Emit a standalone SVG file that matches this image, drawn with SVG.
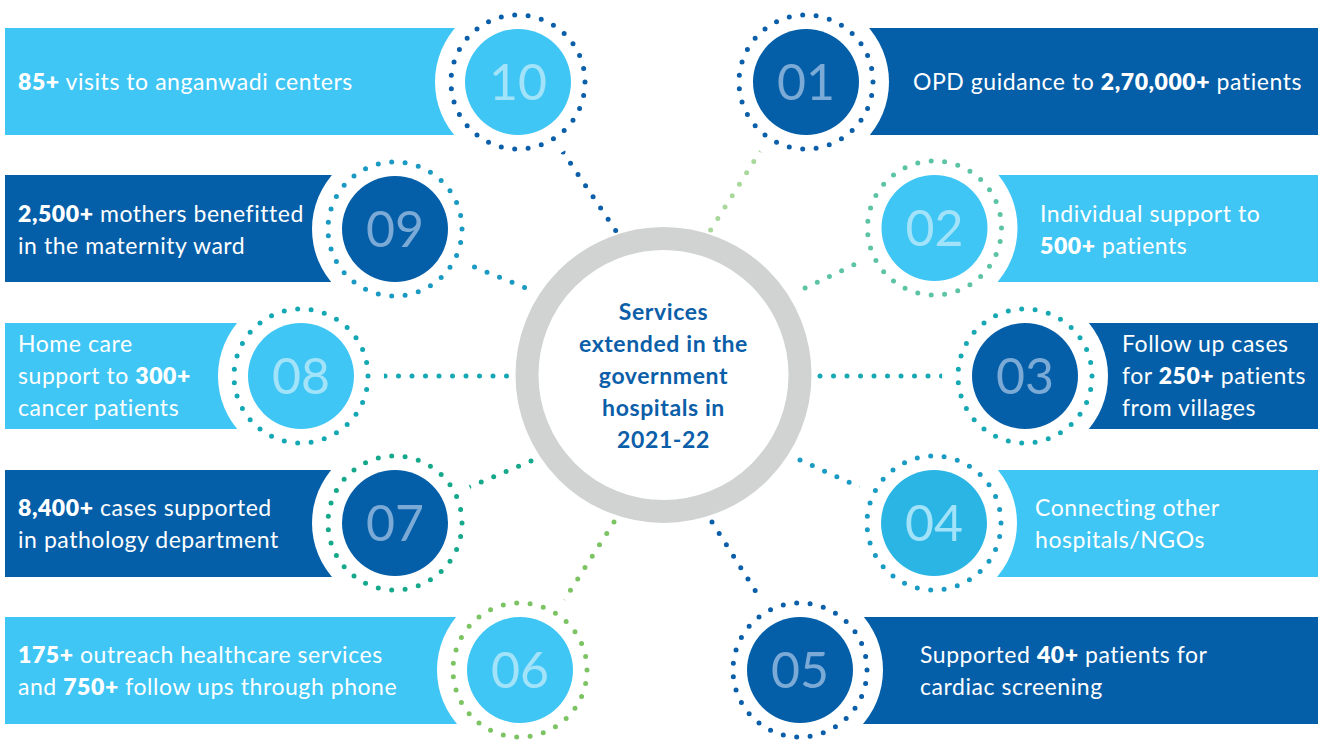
<svg xmlns="http://www.w3.org/2000/svg" width="1320" height="740" viewBox="0 0 1320 740">
<style>
.dark{fill:#045ea8}
.light{fill:#40c6f4}
.mid{fill:#2ab5e4}
.gap{fill:#ffffff}
.ring{fill:none;stroke-width:5;stroke-linecap:round;stroke-dasharray:0 1}
.dl{fill:none;stroke-width:5;stroke-linecap:round;stroke-dasharray:0 13.5}
.lbl{font-family:Lato,"Liberation Sans",sans-serif;font-size:23px;font-weight:400;letter-spacing:0.55px;fill:#ffffff}
.lbl tspan.b{font-weight:800}
.num{font-family:Lato,"Liberation Sans",sans-serif;font-size:50px;font-weight:400;text-anchor:middle}
.nd{fill:#7aaad5}
.nl{fill:#a2e3fa}
.ctr{font-family:Lato,"Liberation Sans",sans-serif;font-size:23px;font-weight:700;letter-spacing:0.6px;fill:#0b5ea8;text-anchor:middle}
</style>
<rect width="1320" height="740" fill="#ffffff"/>
<g id="connectors">
<line class="dl" x1="563" y1="152" x2="616" y2="231" stroke="#0b5ea8"/>
<line class="dl" x1="761" y1="150" x2="710" y2="231" stroke="#a9d89b"/>
<line class="dl" x1="462" y1="262" x2="531" y2="290" stroke="#1a9ac2"/>
<line class="dl" x1="866" y1="259" x2="799" y2="291" stroke="#5cc4a5"/>
<line class="dl" x1="385" y1="376" x2="507" y2="376" stroke="#14a8b5"/>
<line class="dl" x1="820" y1="376" x2="942" y2="376" stroke="#17a9b3"/>
<line class="dl" x1="531" y1="461" x2="462" y2="490" stroke="#16a88a"/>
<line class="dl" x1="800" y1="460" x2="866" y2="490" stroke="#1a9bc3"/>
<line class="dl" x1="614" y1="522" x2="563" y2="602" stroke="#7cc463"/>
<line class="dl" x1="712" y1="522" x2="763" y2="603" stroke="#0b5ea8"/>
</g>
<g id="center">
<circle cx="663.5" cy="375" r="136.5" fill="#ffffff" stroke="#d1d3d3" stroke-width="23"/>
<text class="ctr" x="663.5" y="320">Services</text>
<text class="ctr" x="663.5" y="352">extended in the</text>
<text class="ctr" x="663.5" y="384">government</text>
<text class="ctr" x="663.5" y="416">hospitals in</text>
<text class="ctr" x="663.5" y="448">2021-22</text>
</g>
<g id="node10">
<rect class="light" x="5" y="28" width="500" height="107"/>
<circle class="gap" cx="518" cy="82" r="83"/>
<circle class="ring" cx="518" cy="82" r="67" pathLength="31" stroke="#0b5ea8"/>
<circle class="light" cx="518" cy="82" r="53"/>
<text class="num nl" x="518" y="100">10</text>
<text class="lbl" x="18" y="90"><tspan class="b">85+</tspan> visits to anganwadi centers</text>
</g>
<g id="node09">
<rect class="dark" x="5" y="175" width="380" height="107"/>
<circle class="gap" cx="395" cy="229" r="83"/>
<circle class="ring" cx="395" cy="229" r="67" pathLength="31" stroke="#1a9ac2"/>
<circle class="dark" cx="395" cy="229" r="53"/>
<text class="num nd" x="395" y="247">09</text>
<text class="lbl" x="18" y="222"><tspan class="b">2,500+</tspan> mothers benefitted</text>
<text class="lbl" x="18" y="254">in the maternity ward</text>
</g>
<g id="node08">
<rect class="light" x="5" y="323" width="290" height="106"/>
<circle class="gap" cx="301" cy="376" r="83"/>
<circle class="ring" cx="301" cy="376" r="67" pathLength="31" stroke="#14a8b5"/>
<circle class="light" cx="301" cy="376" r="53"/>
<text class="num nl" x="301" y="394">08</text>
<text class="lbl" x="18" y="352">Home care</text>
<text class="lbl" x="18" y="384">support to <tspan class="b">300+</tspan></text>
<text class="lbl" x="18" y="416">cancer patients</text>
</g>
<g id="node07">
<rect class="dark" x="5" y="470" width="380" height="107"/>
<circle class="gap" cx="395" cy="523" r="83"/>
<circle class="ring" cx="395" cy="523" r="67" pathLength="31" stroke="#16a88a"/>
<circle class="dark" cx="395" cy="523" r="53"/>
<text class="num nd" x="395" y="541">07</text>
<text class="lbl" x="18" y="516"><tspan class="b">8,400+</tspan> cases supported</text>
<text class="lbl" x="18" y="548">in pathology department</text>
</g>
<g id="node06">
<rect class="light" x="5" y="617" width="505" height="107"/>
<circle class="gap" cx="520" cy="670" r="83"/>
<circle class="ring" cx="520" cy="670" r="67" pathLength="31" stroke="#7cc463"/>
<circle class="light" cx="520" cy="670" r="53"/>
<text class="num nl" x="520" y="688">06</text>
<text class="lbl" x="18" y="663"><tspan class="b">175+</tspan> outreach healthcare services</text>
<text class="lbl" x="18" y="695">and <tspan class="b">750+</tspan> follow ups through phone</text>
</g>
<g id="node01">
<rect class="dark" x="820" y="28" width="498" height="107"/>
<circle class="gap" cx="806" cy="82" r="83"/>
<circle class="ring" cx="806" cy="82" r="67" pathLength="31" stroke="#0b5ea8"/>
<circle class="dark" cx="806" cy="82" r="53"/>
<text class="num nd" x="806" y="100">01</text>
<text class="lbl" x="913" y="90">OPD guidance to <tspan class="b">2,70,000+</tspan> patients</text>
</g>
<g id="node02">
<rect class="light" x="940" y="175" width="378" height="107"/>
<circle class="gap" cx="934.5" cy="228" r="83"/>
<circle class="ring" cx="934.5" cy="228" r="67" pathLength="31" stroke="#5cc4a5"/>
<circle class="light" cx="934.5" cy="228" r="53"/>
<text class="num nl" x="934.5" y="246">02</text>
<text class="lbl" x="1040" y="222">Individual support to</text>
<text class="lbl" x="1040" y="254"><tspan class="b">500+</tspan> patients</text>
</g>
<g id="node03">
<rect class="dark" x="1030" y="323" width="288" height="106"/>
<circle class="gap" cx="1025" cy="376" r="83"/>
<circle class="ring" cx="1025" cy="376" r="67" pathLength="31" stroke="#17a9b3"/>
<circle class="dark" cx="1025" cy="376" r="53"/>
<text class="num nd" x="1025" y="394">03</text>
<text class="lbl" x="1122" y="352">Follow up cases</text>
<text class="lbl" x="1122" y="384">for <tspan class="b">250+</tspan> patients</text>
<text class="lbl" x="1122" y="416">from villages</text>
</g>
<g id="node04">
<rect class="light" x="940" y="470" width="378" height="107"/>
<circle class="gap" cx="934" cy="523" r="83"/>
<circle class="ring" cx="934" cy="523" r="67" pathLength="31" stroke="#1a9bc3"/>
<circle class="mid" cx="934" cy="523" r="53"/>
<text class="num nl" x="934" y="541">04</text>
<text class="lbl" x="1035" y="516">Connecting other</text>
<text class="lbl" x="1035" y="548">hospitals/NGOs</text>
</g>
<g id="node05">
<rect class="dark" x="810" y="617" width="508" height="107"/>
<circle class="gap" cx="800" cy="670" r="83"/>
<circle class="ring" cx="800" cy="670" r="67" pathLength="31" stroke="#0b5ea8"/>
<circle class="dark" cx="800" cy="670" r="53"/>
<text class="num nd" x="800" y="688">05</text>
<text class="lbl" x="920" y="663">Supported <tspan class="b">40+</tspan> patients for</text>
<text class="lbl" x="920" y="695">cardiac screening</text>
</g>
</svg>
